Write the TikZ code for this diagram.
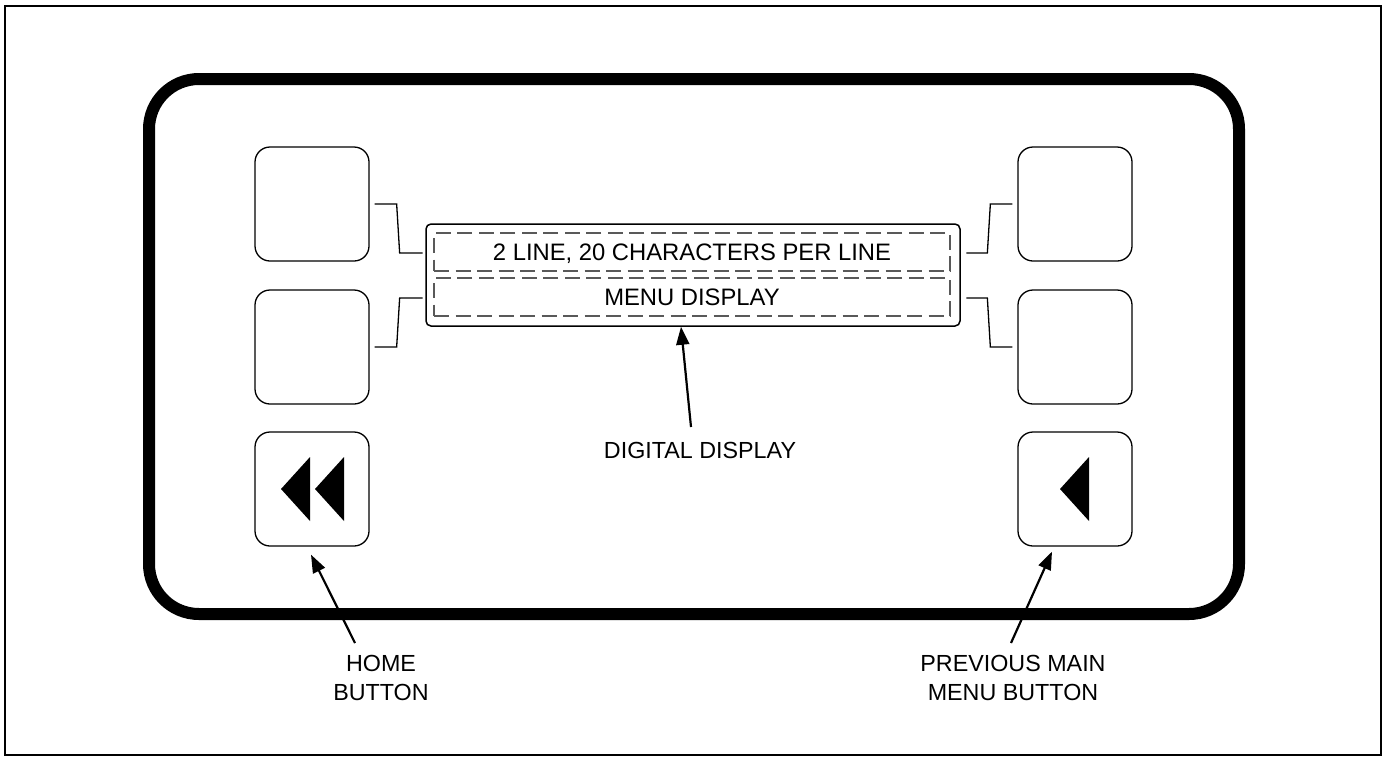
\documentclass[tikz,border=0pt]{standalone}
\usepackage{fontspec}
\setmainfont{Liberation Sans}
\usetikzlibrary{arrows.meta}
\begin{document}
\begin{tikzpicture}[x=1pt,y=-1pt,
  btn/.style={draw, line width=1.3pt, rounded corners=15pt, minimum width=114pt, minimum height=114pt, inner sep=0pt},
  lead/.style={line width=1.3pt},
  arr/.style={line width=2.2pt, -{Triangle[length=18pt,width=13pt]}},
  lbl/.style={font=\fontsize{23.3}{29}\selectfont, inner sep=0pt, align=center},
  dbox/.style={draw=black!65, dash pattern=on 15pt off 6.5pt, line width=1.2pt, minimum width=516pt, minimum height=38pt, inner sep=0pt, text=black, text height=16.7pt, text depth=0pt, font=\fontsize{23.8}{29}\selectfont}]
\useasboundingbox (0,0) rectangle (1389,756);
\node[draw, line width=2pt, minimum width=1376pt, minimum height=749pt, inner sep=0pt] (frame) at (693,380.5) {};
\node[draw, line width=12pt, rounded corners=50pt, minimum width=1090pt, minimum height=535pt, inner sep=0pt] (panel) at (694,346.5) {};
% display
\node[draw, line width=1.5pt, rounded corners=5pt, minimum width=534pt, minimum height=102pt, inner sep=0pt] (disp) at (693,275) {};
\node[dbox] (l1) at (692,252) {2 LINE, 20 CHARACTERS PER LINE};
\node[dbox] (l2) at (692,297) {MENU DISPLAY};
% buttons
\node[btn] (lt) at (312,204) {};
\node[btn] (lm) at (312,347) {};
\node[btn] (home) at (312,489) {};
\node[btn] (rt) at (1075,204) {};
\node[btn] (rm) at (1075,347) {};
\node[btn] (prev) at (1075,489) {};
% leads
\draw[lead] ([xshift=5pt]lt.east) -- ++(22,0) -- ++(3,49) -- ++(23,0);
\draw[lead] ([xshift=5pt]lm.east) -- ++(22,0) -- ++(3,-49) -- ++(23,0);
\draw[lead] ([xshift=-5pt]rt.west) -- ++(-22,0) -- ++(-3,49) -- ++(-21,0);
\draw[lead] ([xshift=-5pt]rm.west) -- ++(-22,0) -- ++(-3,-49) -- ++(-21,0);
% symbols
\fill[shift={(home.center)}] (-31,0) -- (-2,-32) -- (-2,32) -- cycle;
\fill[shift={(home.center)}] (3,0) -- (32,-32) -- (32,32) -- cycle;
\fill[shift={(prev.center)}] (-15,0) -- (14,-32) -- (14,32) -- cycle;
% labels
\node[lbl, text height=16.7pt, text depth=0pt, anchor=north] (dd) at (700,442) {DIGITAL DISPLAY};
\node[lbl, anchor=north] (hl) at (381,655) {HOME\\BUTTON};
\node[lbl, anchor=north] (pl) at (1013,655) {PREVIOUS MAIN\\MENU BUTTON};
% arrows
\draw[arr] ([xshift=-9pt,yshift=15pt]dd.north) -- ([xshift=-12pt]disp.south);
\draw[arr] ([xshift=-26pt,yshift=12pt]hl.north) -- ([xshift=-1pt,yshift=-8pt]home.south);
\draw[arr] ([xshift=-2pt,yshift=12pt]pl.north) -- ([xshift=-23pt,yshift=-5pt]prev.south);
\end{tikzpicture}
\end{document}
